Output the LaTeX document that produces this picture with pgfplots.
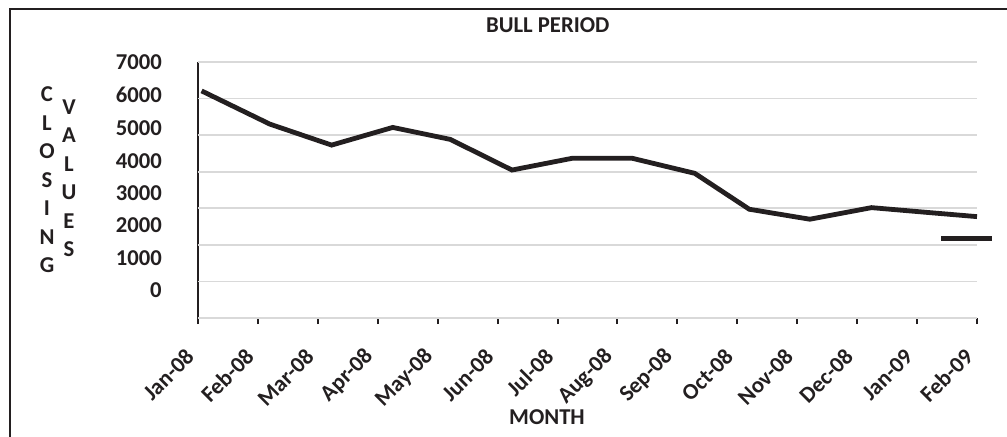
\documentclass[border=0pt]{standalone}
\usepackage{pgfplots}
\pgfplotsset{compat=1.18}
\usepackage{fontspec}
\setmainfont{Carlito}
\definecolor{ink}{HTML}{231F20}
\definecolor{gridc}{HTML}{D9D9D9}
\begin{document}
\begin{tikzpicture}
\useasboundingbox (-148.5pt,-88.5pt) rectangle (606.75pt,238.5pt);
\draw[ink, line width=1.5pt] (-141pt,-100pt) rectangle (620pt,231.75pt);
\begin{axis}[
  at={(0pt,0pt)}, anchor=south west,
  scale only axis, width=584.25pt, height=192pt,
  xmin=0, xmax=13, ymin=0, ymax=7000,
  axis x line*=bottom, axis y line*=left,
  axis line style={-, ink, line width=1.5pt},
  xtick={0,...,13},
  xticklabels={Jan-08,Feb-08,Mar-08,Apr-08,May-08,Jun-08,Jul-08,Aug-08,Sep-08,Oct-08,Nov-08,Dec-08,Jan-09,Feb-09},
  ytick={753,1637,2527,3411,4292,5201,6093,7000},
  yticklabels={0,1000,2000,3000,4000,5000,6000,7000},
  ytick style={draw=none},
  extra y ticks={0,1000,2000,3000,4000,5000,6000,7000},
  extra y tick labels={},
  extra y tick style={ymajorgrids=true, grid style={gridc, line width=1.2pt}, tick style={ink, line width=1.5pt, draw=ink}},
  tick align=outside, major tick length=4.5pt,
  tick style={ink, line width=1.5pt},
  tick label style={font=\bfseries\fontsize{17}{20}\selectfont, text=ink},
  /pgf/number format/assume math mode=true,
  xticklabel style={xshift=-6pt, yshift=-21.75pt, rotate=45, anchor=east, inner sep=0pt},
  yticklabel shift=22.5pt,
  yticklabel style={anchor=east, inner sep=0pt},
  title={BULL PERIOD},
  title style={at={(rel axis cs:0.449,1)}, anchor=center, yshift=21.75pt, font=\bfseries\fontsize{17}{20}\selectfont, text=ink},
  xlabel={MONTH},
  xlabel style={at={(rel axis cs:0.448,0)}, anchor=center, yshift=-74pt, font=\bfseries\fontsize{17}{20}\selectfont, text=ink},
  ylabel={C\\L\\O\\S\\I\\N\\G},
  ylabel style={rotate=-90, at={(rel axis cs:0,0.540)}, anchor=center, xshift=-113.25pt, align=center, font=\bfseries\fontsize{17}{21.4}\selectfont, text=ink},
  clip=false,
  legend style={at={(rel axis cs:0.951,0.309)}, anchor=west, draw=none, fill=none, inner sep=0pt, outer sep=0pt, nodes={inner sep=0pt}},
  legend image code/.code={\draw[#1] (0pt,0pt) -- (38.25pt,0pt);},
]
\addplot[ink, line width=3.6pt] coordinates {
  (0.06,6210) (1.20,5301) (2.23,4728) (3.25,5211) (4.21,4884)
  (5.24,4046) (6.24,4366) (7.25,4366) (8.29,3956) (9.20,2974)
  (10.21,2701) (11.24,3018) (12.25,2876) (13.0,2772)
};
\addlegendentry{\mbox{}}
\node[align=center, anchor=center, font=\bfseries\fontsize{17}{21.4}\selectfont, text=ink] at (rel axis cs:0,0.546) [xshift=-96.75pt] {V\\A\\L\\U\\E\\S};
\end{axis}
\end{tikzpicture}
\end{document}
